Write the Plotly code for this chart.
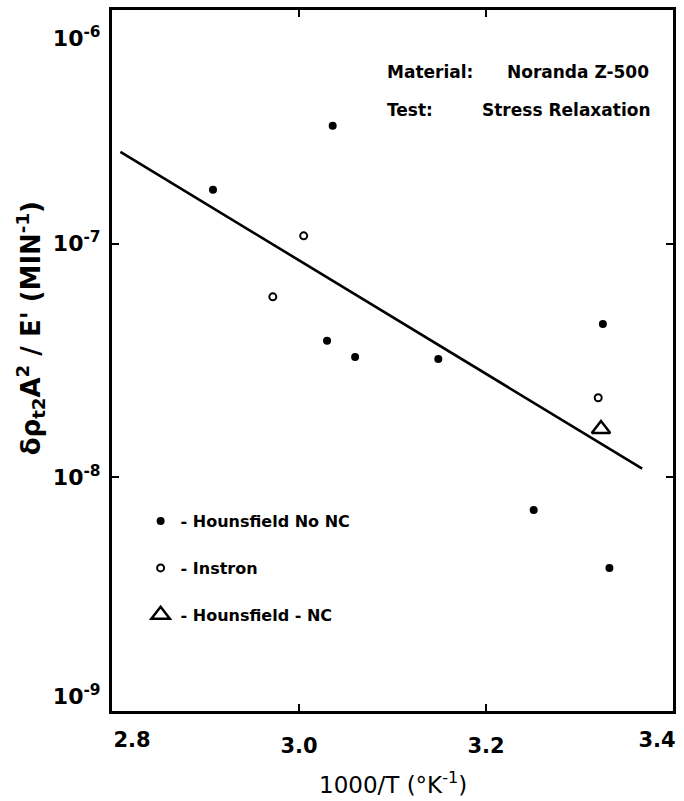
import plotly.graph_objects as go

# Data
hns_x = [2.908, 3.036, 3.030, 3.060, 3.149, 3.325, 3.251, 3.332]
hns_y = [1.70e-7, 3.2e-7, 3.84e-8, 3.27e-8, 3.21e-8, 4.53e-8, 7.24e-9, 4.09e-9]

inst_x = [3.005, 2.972, 3.320]
inst_y = [1.08e-7, 5.92e-8, 2.19e-8]

hnc_x = [3.323]
hnc_y = [1.61e-8]

fit_x = [2.809, 3.367]
fit_y = [2.47e-7, 1.09e-8]

NB = "\u00a0"
x_ticks = [2.8, 3.0, 3.2, 3.4]
x_ticktext = ["", "3.0", "3.2", ""]
x_first_tick, x_first_text = [2.8], ["2.8"]
x_last_tick, x_last_text = [3.4], ["3.4"]
y_ticks = [1e-9, 1e-8, 1e-7, 1e-6]
y_ticktext = ["10<sup>-9</sup><br>" + NB, "10<sup>-8</sup>", "10<sup>-7</sup>",
              NB + "<br>" + NB + "<br>10<sup>-6</sup>"]

FONT = "DejaVu Sans"
tick_font = dict(family=FONT, size=21, color="black", weight="bold")

fig = go.Figure()
fig.add_trace(go.Scatter(x=fit_x, y=fit_y, mode="lines",
                         line=dict(color="black", width=2.6), showlegend=False,
                         hoverinfo="skip"))
fig.add_trace(go.Scatter(x=hns_x, y=hns_y, mode="markers", name="- Hounsfield No NC",
                         legendgroup="a",
                         marker=dict(symbol="circle", size=8, color="black")))
fig.add_trace(go.Scatter(x=inst_x, y=inst_y, mode="markers", name="- Instron",
                         legendgroup="b", xaxis="x2",
                         marker=dict(symbol="circle-open", size=7, color="black",
                                     line=dict(width=2, color="black"))))
fig.add_trace(go.Scatter(x=hnc_x, y=hnc_y, mode="markers", name="- Hounsfield - NC",
                         legendgroup="c", xaxis="x3",
                         marker=dict(symbol="triangle-up-open", size=16, color="black",
                                     line=dict(width=2.5, color="black"))))

overlay_common = dict(type="linear", range=[2.8, 3.4], matches="x", overlaying="x",
                      anchor="y", side="bottom", showgrid=False, zeroline=False,
                      showline=False, ticks="", ticklabelstandoff=14,
                      ticklabeloverflow="allow", automargin=False, tickfont=tick_font)

fig.update_layout(
    width=684, height=801,
    margin=dict(l=112, r=11, t=10, b=90, autoexpand=False),
    paper_bgcolor="white", plot_bgcolor="white",
    font=dict(family=FONT, color="black"),
    showlegend=True,
    legend=dict(x=0.051, y=0.295, xanchor="left", yanchor="top",
                bgcolor="rgba(0,0,0,0)", traceorder="grouped", tracegroupgap=23,
                font=dict(family=FONT, size=16, color="black", weight="bold")),
    xaxis=dict(type="linear", range=[2.8, 3.4], tickvals=x_ticks, ticktext=x_ticktext,
               showgrid=False, zeroline=False, showline=True, linecolor="black",
               linewidth=3, mirror="ticks", ticks="inside", ticklen=7, tickwidth=2,
               tickcolor="black", ticklabelstandoff=14, ticklabeloverflow="allow",
               automargin=False, tickfont=tick_font),
    xaxis2=dict(tickvals=x_last_tick, ticktext=x_last_text, ticklabelshift=-16,
                **overlay_common),
    xaxis3=dict(tickvals=x_first_tick, ticktext=x_first_text, ticklabelshift=20,
                **overlay_common),
    yaxis=dict(type="log", range=[-9, -6], tickvals=y_ticks, ticktext=y_ticktext,
               showgrid=False, zeroline=False, showline=True, linecolor="black",
               linewidth=3, mirror="ticks", ticks="inside", ticklen=7, tickwidth=2,
               tickcolor="black", ticklabelstandoff=4, ticklabeloverflow="allow",
               automargin=False,
               tickfont=dict(family=FONT, size=22, color="black", weight="bold")),
)

fig.add_annotation(xref="paper", yref="paper", x=0.5, y=-0.078, xanchor="center",
                   yanchor="top", showarrow=False,
                   text="1000/T (°K<sup>-1</sup>)",
                   font=dict(family=FONT, size=23, color="black"))
fig.add_annotation(xref="paper", yref="paper", x=-0.146, y=0.546, xanchor="center",
                   yanchor="middle", showarrow=False, textangle=-90,
                   text="δρ<sub>t2</sub>A<sup>2</sup> / E' (MIN<sup>-1</sup>)",
                   font=dict(family=FONT, size=26, color="black", weight="bold"))

ann_font = dict(family=FONT, size=17, color="black", weight="bold")
fig.add_annotation(xref="paper", yref="paper", x=(385 - 112) / 561, y=0.912,
                   xanchor="left", yanchor="middle", showarrow=False,
                   text="Material:", font=ann_font)
fig.add_annotation(xref="paper", yref="paper", x=(505 - 112) / 561, y=0.912,
                   xanchor="left", yanchor="middle", showarrow=False,
                   text="Noranda Z-500", font=ann_font)
fig.add_annotation(xref="paper", yref="paper", x=(385 - 112) / 561, y=0.858,
                   xanchor="left", yanchor="middle", showarrow=False,
                   text="Test:", font=ann_font)
fig.add_annotation(xref="paper", yref="paper", x=(480 - 112) / 561, y=0.858,
                   xanchor="left", yanchor="middle", showarrow=False,
                   text="Stress Relaxation", font=ann_font)

fig.write_html("out.html", config={"displayModeBar": False},
               post_script="document.body.style.margin='0px';")
